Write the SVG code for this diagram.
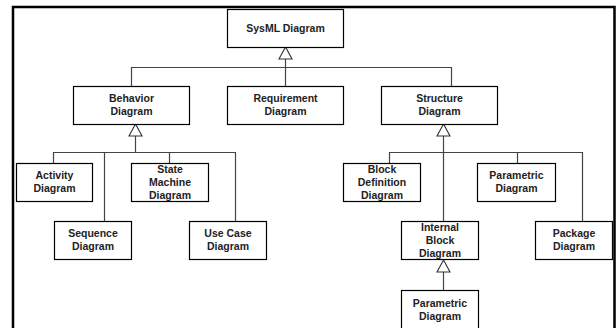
<svg xmlns="http://www.w3.org/2000/svg" width="616" height="328" viewBox="0 0 616 328">
<style>
.box{fill:#fff;stroke:#000;stroke-width:1.2}
.t{font-family:"Liberation Sans",Arial,sans-serif;font-size:10.5px;font-weight:bold;fill:#222;text-anchor:middle}
.c{fill:none;stroke:#444;stroke-width:1.2}
.tri{fill:#fff;stroke:#333;stroke-width:1.1}
.frame{fill:none;stroke:#000;stroke-width:2.5}
</style>
<rect class="frame" x="13" y="7" width="601.5" height="400"/>
<g id="connectors">
<path class="c" d="M285.5 59V86M131.5 86V67.5H451.5V86"/>
<polygon class="tri" points="285.5,47 279,59 292,59"/>
<path class="c" d="M135.5 136V152.5M53.5 163V152.5H235.5V221M104.5 152.5V221M169.5 152.5V163"/>
<polygon class="tri" points="135.5,124 129,136 142,136"/>
<path class="c" d="M443.5 136V221M389.5 163V152.5H582.5V221M517.5 152.5V163"/>
<polygon class="tri" points="443.5,124 437,136 450,136"/>
<path class="c" d="M443.5 272V290"/>
<polygon class="tri" points="443.5,260 437,272 450,272"/>
</g>
<g id="sysml"><rect class="box" x="227.5" y="9.5" width="116" height="38"/><text class="t" x="285.5" y="32">SysML Diagram</text></g>
<g id="behavior"><rect class="box" x="73.5" y="86.5" width="116" height="38"/><text class="t" x="131.5" y="102">Behavior</text><text class="t" x="131.5" y="115">Diagram</text></g>
<g id="requirement"><rect class="box" x="227.5" y="86.5" width="116" height="38"/><text class="t" x="285.5" y="102">Requirement</text><text class="t" x="285.5" y="115">Diagram</text></g>
<g id="structure"><rect class="box" x="381.5" y="86.5" width="116" height="38"/><text class="t" x="439.5" y="102">Structure</text><text class="t" x="439.5" y="115">Diagram</text></g>
<g id="activity"><rect class="box" x="16.5" y="163.5" width="76" height="38"/><text class="t" x="54.5" y="178.5">Activity</text><text class="t" x="54.5" y="191.5">Diagram</text></g>
<g id="statemachine"><rect class="box" x="131.5" y="163.5" width="77" height="38"/><text class="t" x="170" y="172.5">State</text><text class="t" x="170" y="185.5">Machine</text><text class="t" x="170" y="198.5">Diagram</text></g>
<g id="sequence"><rect class="box" x="54.5" y="221.5" width="77" height="38"/><text class="t" x="93" y="237">Sequence</text><text class="t" x="93" y="250">Diagram</text></g>
<g id="usecase"><rect class="box" x="189.5" y="221.5" width="77" height="38"/><text class="t" x="228" y="237">Use Case</text><text class="t" x="228" y="250">Diagram</text></g>
<g id="blockdef"><rect class="box" x="343.5" y="163.5" width="77" height="38"/><text class="t" x="382" y="172.5">Block</text><text class="t" x="382" y="185.5">Definition</text><text class="t" x="382" y="198.5">Diagram</text></g>
<g id="parametric1"><rect class="box" x="477.5" y="163.5" width="78" height="38"/><text class="t" x="516.5" y="178.5">Parametric</text><text class="t" x="516.5" y="191.5">Diagram</text></g>
<g id="internalblock"><rect class="box" x="401.5" y="221.5" width="77" height="38"/><text class="t" x="440" y="230.5">Internal</text><text class="t" x="440" y="243.5">Block</text><text class="t" x="440" y="256.5">Diagram</text></g>
<g id="package"><rect class="box" x="535.5" y="221.5" width="77" height="38"/><text class="t" x="574" y="237">Package</text><text class="t" x="574" y="250">Diagram</text></g>
<g id="parametric2"><rect class="box" x="401.5" y="290.5" width="77" height="40"/><text class="t" x="440" y="306.5">Parametric</text><text class="t" x="440" y="319.5">Diagram</text></g>
</svg>
